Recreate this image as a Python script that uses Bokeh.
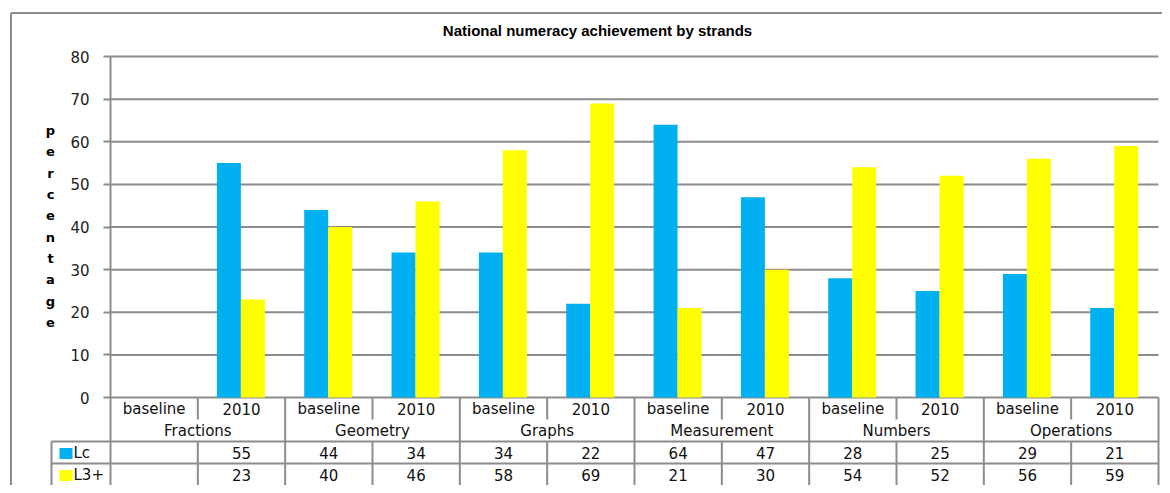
from bokeh.plotting import figure
from bokeh.models import Range1d, FixedTicker
from bokeh.core.properties import value
from bokeh.embed import file_html
from bokeh.resources import INLINE

# ---------------- data ----------------
strands = ["Fractions", "Geometry", "Graphs", "Measurement", "Numbers", "Operations"]
periods = ["baseline", "2010"]
lc_values = [None, 55, 44, 34, 34, 22, 64, 47, 28, 25, 29, 21]
l3_values = [None, 23, 40, 46, 58, 69, 21, 30, 54, 52, 56, 59]
series_names = ["Lc", "L3+"]
series_colors = ["#00B0F0", "#FFFF00"]
y_ticks = [0, 10, 20, 30, 40, 50, 60, 70, 80]
title_text = "National numeracy achievement by strands"
y_label = "percentage"

# ---------------- geometry helpers (screen px -> data) ----------------
W, H = 1162, 485
X_ORIGIN = 110                # screen x of category 0
COL_PX = (1158 - X_ORIGIN) / 12.0
Y_ORIGIN = 397                # screen y of value 0
Y_TOP = 56                    # screen y of value 80
PY = (Y_ORIGIN - Y_TOP) / 80.0


def dx(ix):
    return (ix - X_ORIGIN) / COL_PX


def dy(iy):
    return (Y_ORIGIN - iy) / PY


GRAY = "#8C8C8C"
FONT = value("DejaVu Sans")

p = figure(width=W, height=H, output_backend="svg", toolbar_location=None,
           x_range=Range1d(dx(0), dx(W)), y_range=Range1d(dy(H), dy(0)),
           x_axis_location=None, min_border=0, min_border_left=0,
           min_border_right=0, min_border_top=0, min_border_bottom=0,
           outline_line_color=None, background_fill_color="white",
           border_fill_color="white")
p.xgrid.visible = False
p.ygrid.visible = False

# y axis at category origin
ax = p.yaxis[0]
ax.fixed_location = 0
ax.ticker = FixedTicker(ticks=y_ticks)
ax.bounds = (dy(H), max(y_ticks))
ax.axis_line_color = GRAY
ax.axis_line_width = 2
ax.major_tick_line_color = GRAY
ax.major_tick_line_width = 2
ax.major_tick_out = 7
ax.major_tick_in = 0
ax.minor_tick_line_color = None
ax.major_label_text_font = "DejaVu Sans"
ax.major_label_text_font_size = "15px"
ax.major_label_text_color = "#222222"
ax.major_label_standoff = 14

n = len(lc_values)

# gridlines at tick values
p.segment(x0=[0] * len(y_ticks), x1=[n] * len(y_ticks), y0=y_ticks, y1=y_ticks,
          line_color=GRAY, line_width=2)

# bars
bw = 24 / COL_PX
pair_c = 0.493
for k, (vals, col) in enumerate(zip([lc_values, l3_values], series_colors)):
    xs = [i + pair_c + (k - 0.5) * bw for i, v in enumerate(vals) if v is not None]
    tops = [v for v in vals if v is not None]
    p.vbar(x=xs, top=tops, bottom=0, width=bw, fill_color=col, line_color=None)

# table rows (screen y): category row, strand row, Lc row, L3+ row
yb = dy(H + 2)
row_cat_bot = dy(419)
row_strand_bot = dy(441)
row_lc_bot = dy(463)
legend_left = dx(51)
hy = [row_strand_bot, row_lc_bot]
p.segment(x0=[legend_left] * 2, x1=[n] * 2, y0=hy, y1=hy, line_color=GRAY, line_width=2)

vx, vy0, vy1 = [legend_left], [row_strand_bot], [yb]
for i in range(1, n + 1):
    if i % 2 == 0:
        vx.append(i); vy0.append(0); vy1.append(yb)
    else:
        vx.append(i); vy0.append(0); vy1.append(row_cat_bot)
        vx.append(i); vy0.append(row_strand_bot); vy1.append(yb)
p.segment(x0=vx, x1=vx, y0=vy0, y1=vy1, line_color=GRAY, line_width=2)

# outer chart border (left and top)
p.segment(x0=[dx(10.5), dx(10.5)], x1=[dx(10.5), dx(W + 2)],
          y0=[dy(12.5), dy(12.5)], y1=[dy(H + 2), dy(12.5)],
          line_color=GRAY, line_width=2)

# category labels
sub_labels = [periods[i % 2] for i in range(n)]
p.text(x=[i + 0.5 for i in range(n)], y=[dy(408)] * n, text=sub_labels,
       text_font=FONT, text_font_size="15px", text_color="#111111",
       text_align="center", text_baseline="middle")
p.text(x=[2 * k + 1 for k in range(len(strands))], y=[dy(430)] * len(strands),
       text=strands, text_font=FONT, text_font_size="15px", text_color="#111111",
       text_align="center", text_baseline="middle")

# data table rows
for vals, yy in [(lc_values, dy(452)), (l3_values, dy(474))]:
    p.text(x=[i + 0.5 for i in range(n)], y=[yy] * n,
           text=["" if v is None else str(v) for v in vals],
           text_font=FONT, text_font_size="15px", text_color="#111111",
           text_align="center", text_baseline="middle")

# legend keys in table
p.rect(x=[dx(65.5)] * 2, y=[dy(453), dy(475)], width=13, height=11,
       width_units="screen", height_units="screen",
       fill_color=series_colors, line_color=None)
p.text(x=[dx(73)] * 2, y=[dy(452), dy(474)], text=series_names,
       text_font=FONT, text_font_size="15px", text_color="#111111",
       text_align="left", text_baseline="middle")

# title
p.text(x=[dx(597)], y=[dy(30)], text=[title_text], text_font=value("Liberation Sans"),
       text_font_size="15px", text_font_style="bold", text_color="#000000",
       text_align="center", text_baseline="middle")

# vertical stacked y label
p.text(x=[dx(50)], y=[dy(226)], text=["\n".join(y_label)], text_font=FONT,
       text_font_size="13px", text_font_style="bold", text_color="#000000",
       text_align="center", text_baseline="middle", text_line_height=1.42)

open("out.html", "w").write(file_html(p, INLINE))
